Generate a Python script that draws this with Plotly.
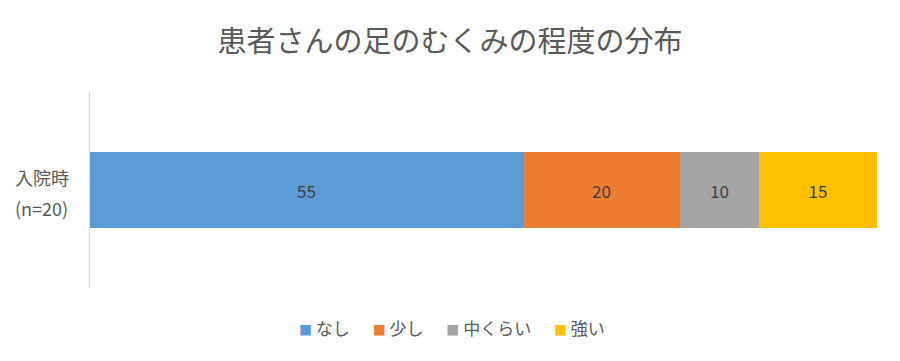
import plotly.graph_objects as go

categories = ["入院時<br>(n=20)"]
series_names = ["なし", "少し", "中くらい", "強い"]
series_values = [[55], [20], [10], [15]]
colors = ["#5B9BD5", "#ED7D31", "#A5A5A5", "#FFC000"]

font_family = "Noto Sans CJK JP, Noto Sans, sans-serif"
text_color = "#595959"

fig = go.Figure()
for name, vals, c in zip(series_names, series_values, colors):
    fig.add_trace(go.Bar(
        y=categories, x=vals, name=name, orientation="h",
        marker=dict(color=c, line=dict(width=0)),
        text=[str(v) for v in vals], textposition="inside",
        insidetextanchor="middle",
        textfont=dict(color="#404040", size=17, family=font_family),
    ))

# Category label (two centred lines, like the original)
label_lines = categories[0].split("<br>")
line_y = [0.566, 0.41]
for line, yy in zip(label_lines, line_y):
    fig.add_annotation(text=line, xref="paper", yref="paper", x=-0.061, y=yy,
                       xanchor="center", yanchor="middle", showarrow=False,
                       font=dict(size=18, color=text_color, family=font_family))

# Legend built from the series names/colours
legend_parts = [
    f"<span style='color:{c};font-size:13px'>■</span> {n}"
    for n, c in zip(series_names, colors)
]
legend_text = "      ".join(legend_parts)
fig.add_annotation(text=legend_text, xref="paper", yref="paper",
                   x=(452 - 90) / 787, y=-0.2, xanchor="center", yanchor="middle",
                   showarrow=False,
                   font=dict(size=17, color=text_color, family=font_family))

fig.update_layout(
    barmode="stack",
    bargap=0.61,
    width=900, height=361,
    margin=dict(l=90, r=23, t=92, b=73),
    paper_bgcolor="white", plot_bgcolor="white",
    font=dict(family=font_family, color=text_color),
    title=dict(text="患者さんの足のむくみの程度の分布", x=0.5, xanchor="center",
               y=0.885, yanchor="middle",
               font=dict(size=29, color=text_color, family=font_family)),
    xaxis=dict(range=[0, 100], visible=False, showgrid=False, zeroline=False),
    yaxis=dict(showline=True, linecolor="#D9D9D9", linewidth=1, ticks="",
               showgrid=False, showticklabels=False),
    showlegend=False,
)

fig.write_html("out.html")
